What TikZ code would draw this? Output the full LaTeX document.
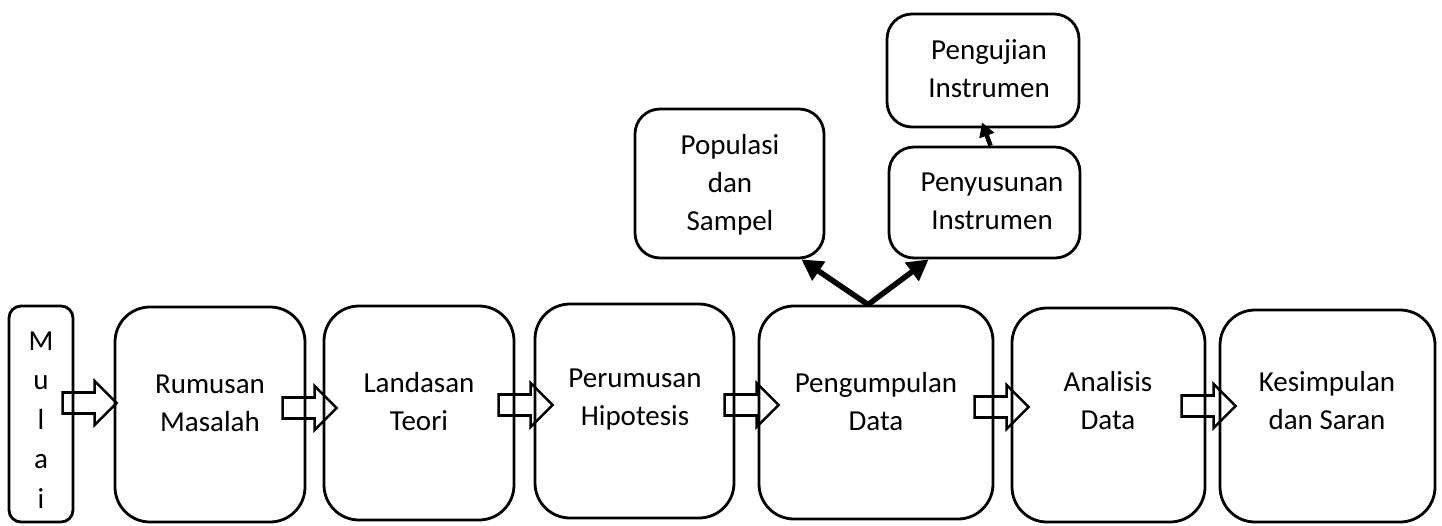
\documentclass[tikz,border=0pt]{standalone}
\usepackage{fontspec}
\setmainfont{Carlito}
\usetikzlibrary{arrows.meta,calc}

\tikzset{
  box/.style={draw, line width=2.8pt, rounded corners=35pt, inner sep=0pt, fill=none},
  topbox/.style={box, rounded corners=25pt},
  txt/.style={align=center, inner sep=0pt, font=\fontsize{29}{38}\selectfont},
  fat/.style={line width=2.6pt, line join=miter},
  thick arrow/.style={line width=5.5pt, -{Triangle[length=21pt,width=22pt]}},
  blockarr/.pic={
    \draw[fat] (0,0) -- (-22,-22) -- (-22,-10.5) -- (-54,-10.5) -- (-54,10.5)
      -- (-22,10.5) -- (-22,22) -- cycle;
  }
}

\begin{document}
\begin{tikzpicture}[x=1pt,y=-1pt]
\useasboundingbox (0,0) rectangle (1442,525);

% main row of stages
\node[box, rounded corners=12pt, minimum width=64, minimum height=216] (mulai) at (41,414) {};
\node[box, minimum width=190, minimum height=215] (rum) at (210,414.5) {};
\node[box, minimum width=190, minimum height=214] (lan) at (419,413) {};
\node[box, minimum width=199, minimum height=214] (per) at (634.5,411) {};
\node[box, minimum width=234, minimum height=213] (pen) at (876,412.5) {};
\node[box, minimum width=193, minimum height=214] (ana) at (1108.5,415) {};
\node[box, minimum width=215, minimum height=212] (kes) at (1327.5,416) {};

% branch boxes above the data collection stage
\node[topbox, minimum width=189, minimum height=149] (pop) at (729.5,183.5) {};
\node[topbox, minimum width=191, minimum height=111] (pny) at (984.5,202.5) {};
\node[topbox, minimum width=192, minimum height=113] (pgj) at (983,70.5) {};

% labels
\node[txt, font=\fontsize{29}{39.5}\selectfont] (tmulai) at (41,420) {M\\u\\l\\a\\i};
\node[txt] (trum) at (210,403) {Rumusan\\Masalah};
\node[txt] (tlan) at (419,402) {Landasan\\Teori};
\node[txt] (tper) at (635,400) {Perumusan\\Hipotesis};
\node[txt] (tpen) at (876,402) {Pengumpulan\\Data};
\node[txt] (tana) at (1108,401) {Analisis\\Data};
\node[txt] (tkes) at (1327,401) {Kesimpulan\\dan Saran};
\node[txt] (tpop) at (730,185) {Populasi\\dan\\Sampel};
\node[txt] (tpny) at (992,201) {Penyusunan\\Instrumen};
\node[txt] (tpgj) at (989,69) {Pengujian\\Instrumen};

% block arrows between stages
\pic at ($(rum.west)+(3,-11.5)$) {blockarr};
\pic at ($(lan.west)+(14,-5)$) {blockarr};
\pic at ($(per.west)+(19,-6)$) {blockarr};
\pic at ($(pen.west)+(21,-7.5)$) {blockarr};
\pic at ($(ana.west)+(18,-8)$) {blockarr};
\pic at ($(kes.west)+(17,-10)$) {blockarr};

% branching connectors
\coordinate (fork) at ($(pen.north)+(-8,0)$);
\draw[thick arrow] (fork) -- ($(pop.south east)+(-24,0)$);
\draw[thick arrow] (fork) -- ($(pny.south west)+(41,0)$);
\draw[line width=4.5pt, -{Triangle[length=14pt,width=15pt]}]
  ($(pny.north)+(6,0)$) -- ($(pgj.south)+(-1,-6)$);
\end{tikzpicture}
\end{document}
